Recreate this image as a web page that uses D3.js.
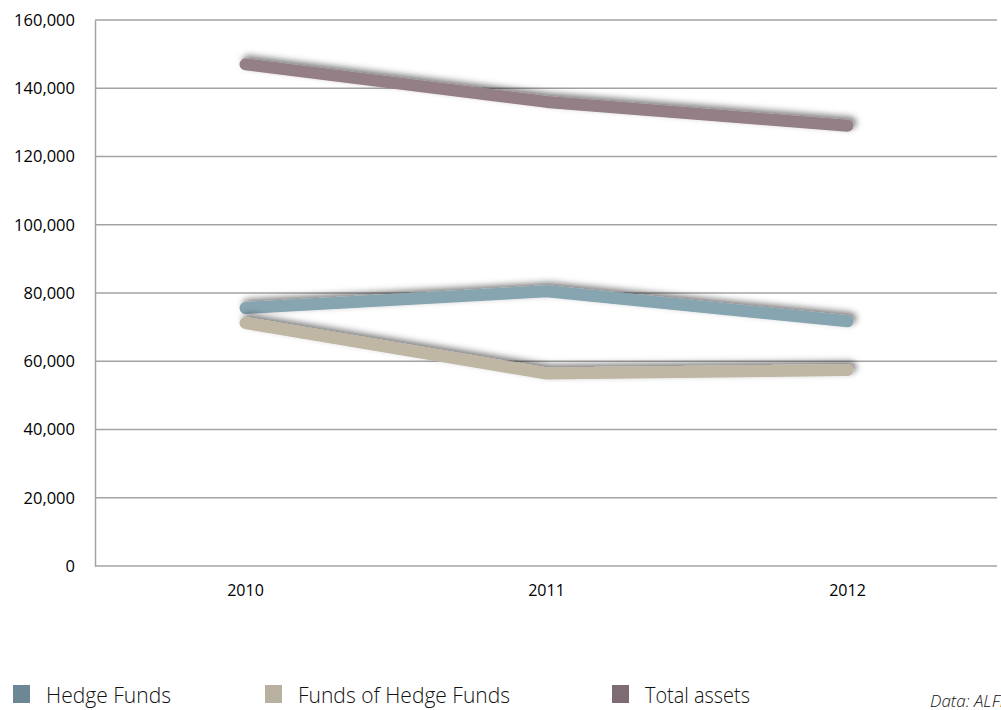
<!DOCTYPE html>
<html>
<head>
<meta charset="utf-8">
<script src="https://cdn.jsdelivr.net/npm/d3@7"></script>
<style>
  body { margin: 0; background: #fff; }
  svg { display: block; }
  .tick text { font-family: "Open Sans", sans-serif; fill: #000; }
  .legend text { font-family: "Open Sans", sans-serif; font-weight: 300; fill: #111; }
</style>
</head>
<body>
<div id="chart"></div>
<script>
// data
var years = ["2010", "2011", "2012"];
var hedgeFunds = [75600, 80500, 71700];
var fundsOfHedgeFunds = [71200, 56400, 57400];
var totalAssets = [147000, 136000, 129000];
var yTicks = [0, 20000, 40000, 60000, 80000, 100000, 120000, 140000, 160000];
var seriesNames = ["Hedge Funds", "Funds of Hedge Funds", "Total assets"];

var lineColors = ["#87a4b1", "#bfb6a4", "#957f86"];
var swatchColors = ["#6e8796", "#b8b1a0", "#7f6b73"];

var width = 1001,
	height = 710;
var plotLeft = 95, plotRight = 998, plotTop = 20, plotBottom = 566;

var svg = d3.select("#chart")
	.append("svg")
	.attr("width", width)
	.attr("height", height);

// soft shadow like the office chart
var defs = svg.append("defs");
defs.append("filter")
	.attr("id", "shadow")
	.attr("x", "-10%").attr("y", "-50%")
	.attr("width", "120%").attr("height", "200%")
	.append("feDropShadow")
	.attr("dx", 3)
	.attr("dy", -3)
	.attr("stdDeviation", 3)
	.attr("flood-color", "#000")
	.attr("flood-opacity", 0.5);

var x = d3.scaleBand()
	.domain(years)
	.range([plotLeft, plotRight]);

var y = d3.scaleLinear()
	.domain([0, 160000])
	.range([plotBottom, plotTop]);

// gridlines
svg.append("g")
	.attr("class", "grid")
	.selectAll("line")
	.data(yTicks)
	.enter().append("line")
	.attr("x1", plotLeft)
	.attr("x2", plotRight - 1)
	.attr("y1", function(d) { return y(d); })
	.attr("y2", function(d) { return y(d); })
	.attr("stroke", "#a3a3a3")
	.attr("stroke-width", 1.5);

// y axis
var yAxis = svg.append("g")
	.attr("transform", "translate(" + plotLeft + ",0)")
	.call(d3.axisLeft(y).tickValues(yTicks).tickSize(0).tickPadding(20)
		.tickFormat(d3.format(",")));
yAxis.select(".domain").attr("stroke", "#a3a3a3").attr("stroke-width", 1.5);
yAxis.selectAll("text").style("font-size", "16.5px");

// x axis
var xAxis = svg.append("g")
	.attr("transform", "translate(0," + plotBottom + ")")
	.call(d3.axisBottom(x).tickSize(0).tickPadding(19));
xAxis.select(".domain").remove();
xAxis.selectAll("text").style("font-size", "16px");

// lines
var allSeries = [hedgeFunds, fundsOfHedgeFunds, totalAssets];
var line = d3.line()
	.x(function(d, i) { return x(years[i]) + x.bandwidth() / 2; })
	.y(function(d) { return y(d); });

svg.append("g")
	.selectAll("path")
	.data(allSeries)
	.enter().append("path")
	.attr("d", line)
	.attr("fill", "none")
	.attr("stroke", function(d, i) { return lineColors[i]; })
	.attr("stroke-width", 12)
	.attr("stroke-linecap", "round")
	.attr("stroke-linejoin", "round")
	.attr("filter", "url(#shadow)");

// legend
var legendX = [13, 265, 612];
var legend = svg.append("g").attr("class", "legend");
legend.selectAll("rect")
	.data(seriesNames)
	.enter().append("rect")
	.attr("x", function(d, i) { return legendX[i]; })
	.attr("y", 685)
	.attr("width", 17)
	.attr("height", 18)
	.attr("fill", function(d, i) { return swatchColors[i]; });
legend.selectAll("text")
	.data(seriesNames)
	.enter().append("text")
	.attr("x", function(d, i) { return legendX[i] + 33; })
	.attr("y", 703)
	.attr("textLength", function(d, i) { return [125, 212, 105][i]; })
	.attr("lengthAdjust", "spacingAndGlyphs")
	.style("font-size", "22px")
	.text(function(d) { return d; });

svg.append("text")
	.attr("x", 930)
	.attr("y", 707)
	.style("font-family", "'Open Sans', sans-serif")
	.style("font-weight", 300)
	.style("font-style", "italic")
	.style("font-size", "17px")
	.attr("fill", "#111")
	.text("Data: ALFI");
</script>
</body>
</html>
